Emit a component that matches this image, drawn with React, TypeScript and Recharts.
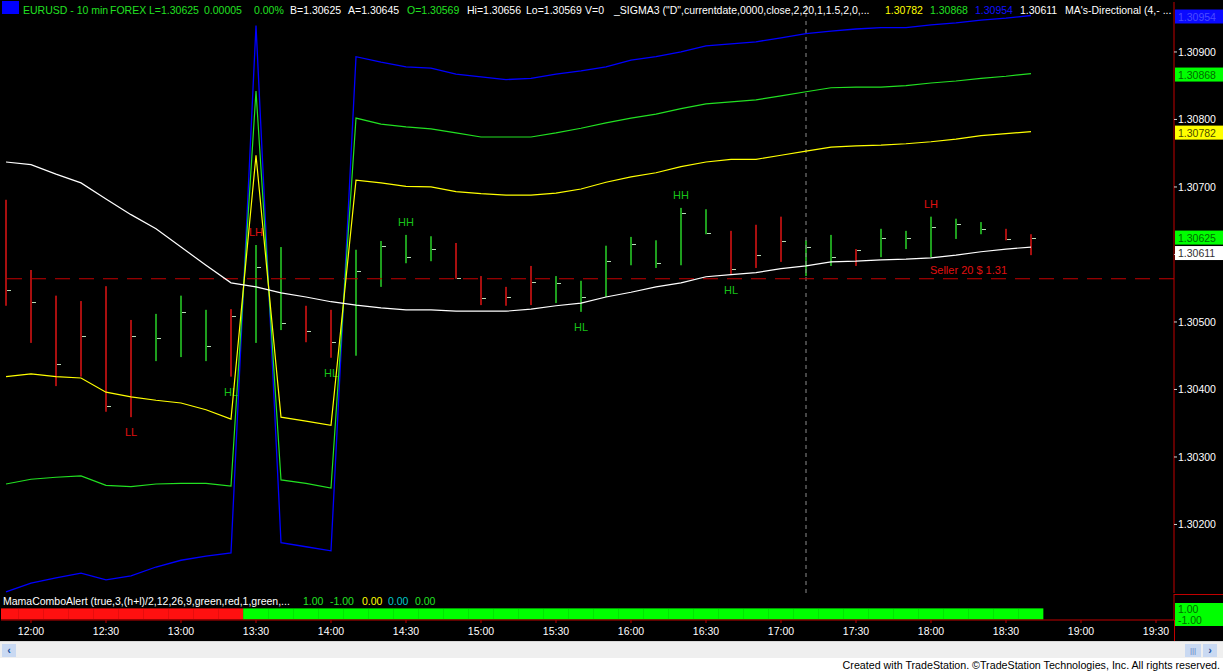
import React from 'react';
import { Bar, Cell, ComposedChart, Line, ReferenceDot, ReferenceLine, XAxis, YAxis } from 'recharts';

// EURUSD 10 min bars, first bar at 11:50
const FIRST_BAR = '11:50';
const BAR_MINUTES = 10;

const highs = [
  1.30681, 1.30577, 1.30539, 1.30531, 1.30553, 1.30503, 1.30512, 1.30539, 1.30518, 1.30519,
  1.30614, 1.30611, 1.30524, 1.30518, 1.30607, 1.3062, 1.30629, 1.30627, 1.30617, 1.30568,
  1.30552, 1.30583, 1.30568, 1.30561, 1.30613, 1.30626, 1.30621, 1.30669, 1.30667, 1.30635,
  1.30644, 1.30656, 1.30621, 1.30629, 1.30608, 1.30638, 1.30635, 1.30656, 1.30653, 1.30648,
  1.30638, 1.3063,
];
const lows = [
  1.30524, 1.30469, 1.30405, 1.30419, 1.30367, 1.30359, 1.30442, 1.30448, 1.30442, 1.30419,
  1.30469, 1.30488, 1.3047, 1.30447, 1.3045, 1.30552, 1.30587, 1.3059, 1.30564, 1.30525,
  1.30524, 1.30525, 1.30528, 1.30515, 1.30537, 1.30584, 1.3058, 1.30584, 1.3063, 1.3057,
  1.3058, 1.30589, 1.30568, 1.30583, 1.30583, 1.30596, 1.30608, 1.30596, 1.30623, 1.3063,
  1.30621, 1.30599,
];
const closes = [
  1.30547, 1.3053, 1.30438, 1.30479, 1.30376, 1.30479, 1.30476, 1.30515, 1.30464, 1.30509,
  1.30581, 1.30499, 1.30487, 1.3047, 1.30576, 1.30613, 1.30596, 1.30608, 1.30565, 1.30536,
  1.30537, 1.30559, 1.30558, 1.30537, 1.3059, 1.30616, 1.30587, 1.30661, 1.30632, 1.30579,
  1.30599, 1.3062, 1.30611, 1.30596, 1.30607, 1.30624, 1.30624, 1.30641, 1.30645, 1.30638,
  1.30623, 1.30625,
];
// paint bar colour: 1 = green, -1 = red
const barDir = [
  -1, -1, -1, -1, -1, -1, 1, 1, 1, -1,
  1, 1, -1, -1, 1, 1, 1, 1, -1, -1,
  -1, -1, 1, 1, 1, 1, 1, 1, 1, -1,
  -1, -1, 1, 1, -1, 1, 1, 1, 1, 1,
  -1, -1,
];

// _SIGMA3 plots
const sigmaMid = [
  1.30737, 1.30733, 1.30719, 1.30706, 1.30682, 1.30659, 1.30638, 1.30611, 1.30584, 1.30558,
  1.30552, 1.30543, 1.30537, 1.3053, 1.30525, 1.30521, 1.30518, 1.30518, 1.30516, 1.30516,
  1.30516, 1.30519, 1.30524, 1.30528, 1.30537, 1.30544, 1.30552, 1.30558, 1.30567, 1.3057,
  1.30573, 1.30579, 1.30583, 1.30589, 1.3059, 1.30592, 1.30593, 1.30595, 1.30599, 1.30604,
  1.30608, 1.30611,
];
const sigmaYellow = [
  1.30419, 1.30423, 1.30419, 1.30417, 1.30396, 1.30389, 1.30384, 1.3038, 1.3037, 1.30356,
  1.30747, 1.30359, 1.30353, 1.30347, 1.3071, 1.30706, 1.30701, 1.307, 1.30693, 1.3069,
  1.30688, 1.30688, 1.30691, 1.30697, 1.30707, 1.30715, 1.30721, 1.3073, 1.30737, 1.30741,
  1.30741, 1.30747, 1.30753, 1.30759, 1.30761, 1.30762, 1.30764, 1.30767, 1.30771, 1.30776,
  1.30779, 1.30782,
];
const sigmaGreen = [
  1.3026, 1.30267, 1.3027, 1.30272, 1.30258, 1.30256, 1.3026, 1.30261, 1.30261, 1.30257,
  1.30842, 1.30266, 1.30261, 1.30254, 1.30802, 1.30793, 1.30789, 1.30786, 1.3078, 1.30774,
  1.30774, 1.30774, 1.3078, 1.30787, 1.30795, 1.30802, 1.30808, 1.30816, 1.30823, 1.30826,
  1.30829, 1.30835, 1.30841, 1.30847, 1.30848, 1.30848, 1.3085, 1.30854, 1.30857, 1.30861,
  1.30864, 1.30868,
];
const sigmaBlue = [
  1.301, 1.30113, 1.30121, 1.30128, 1.30118, 1.30124, 1.30137, 1.30147, 1.30153, 1.30158,
  1.30939, 1.30173, 1.30167, 1.30161, 1.30893, 1.30885, 1.30878, 1.30876, 1.30867, 1.30863,
  1.30859, 1.30861, 1.30867, 1.30872, 1.30878, 1.30888, 1.30893, 1.309, 1.30909, 1.30912,
  1.30915, 1.30921, 1.30927, 1.30931, 1.30934, 1.30936, 1.30936, 1.3094, 1.30943, 1.30947,
  1.3095, 1.30954,
];

// swing labels: bar index, text
const swingBars = [5, 9, 10, 13, 16, 23, 27, 29, 37];
const swingTexts = ['LL', 'HL', 'LH', 'HL', 'HH', 'HL', 'HH', 'HL', 'LH'];

// MamaComboAlert state per bar
const alertState = [
  -1, -1, -1, -1, -1, -1, -1, -1, -1, -1,
  1, 1, 1, 1, 1, 1, 1, 1, 1, 1,
  1, 1, 1, 1, 1, 1, 1, 1, 1, 1,
  1, 1, 1, 1, 1, 1, 1, 1, 1, 1,
  1, 1,
];

const priceTicks = [1.302, 1.303, 1.304, 1.305, 1.306, 1.307, 1.308, 1.309];
const timeTicks = [
  '12:00', '12:30', '13:00', '13:30', '14:00', '14:30', '15:00', '15:30',
  '16:00', '16:30', '17:00', '17:30', '18:00', '18:30', '19:00', '19:30',
];
const sellerLevel = 1.30564;
const sellerText = 'Seller 20 $ 1.31';
const sellerAt = '18:15';
const sessionLine = '17:10';

const FONT = '"Liberation Sans", Arial, sans-serif';
const UP = '#1e9e1e';
const DOWN = '#a80f0f';
const AXIS_RED = '#c00000';
const W = 1223;

const toMin = (t: string) => {
  const [h, m] = t.split(':').map(Number);
  return h * 60 + m;
};
const slotOf = (t: string) => (toMin(t) - toMin(FIRST_BAR)) / BAR_MINUTES;
const X_DOMAIN: [number, number] = [-0.2, 46.72];
const Y_DOMAIN: [number, number] = [1.300985, 1.30974];

const rows = highs.map((h, i) => {
  const k = swingBars.indexOf(i);
  return {
    i,
    range: [lows[i], h],
    high: h,
    low: lows[i],
    close: closes[i],
    dir: barDir[i],
    mid: sigmaMid[i],
    yellow: sigmaYellow[i],
    green: sigmaGreen[i],
    blue: sigmaBlue[i],
    swing: k >= 0 ? swingTexts[k] : null,
  };
});
const alertRows = alertState.map((a, i) => ({ i, a, mag: Math.abs(a) }));
const last = closes.length - 1;

const OhlcShape = (props: any) => {
  const { x, y, width, height, payload } = props;
  if (x == null || !payload) return null;
  const top = Math.min(y, y + height);
  const h = Math.abs(height);
  const cx = Math.round(x + width / 2);
  const span = payload.high - payload.low;
  const yc = top + (span ? (payload.high - payload.close) / span : 0) * h;
  const sw = payload.swing as string | null;
  const above = sw === 'HH' || sw === 'LH';
  return (
    <g>
      <rect x={cx - 1} y={top} width={2} height={Math.max(h, 1)} fill={payload.dir > 0 ? UP : DOWN} />
      <rect x={cx + 1} y={Math.round(yc)} width={4} height={1} fill="#b8dcb8" />
      {sw && (
        <text
          x={cx}
          y={above ? top - 13 : top + h + 15}
          textAnchor="middle"
          dominantBaseline="central"
          fontSize={11}
          fontFamily={FONT}
          fill={sw[0] === 'H' ? '#18c018' : '#e01010'}
        >
          {sw}
        </text>
      )}
    </g>
  );
};

// histogram cell filling the whole 10 minute slot
const AlertShape = (props: any) => {
  const { x, y, width, height, fill } = props;
  if (x == null) return null;
  const cx = x + width / 2;
  const top = Math.min(y, y + height);
  return <rect x={cx - 12.6} y={top} width={25.2} height={Math.abs(height)} fill={fill} />;
};

const AxisBox = (props: any) => {
  const { viewBox, bg, fg, text, dy = 0 } = props;
  if (!viewBox) return null;
  const x = viewBox.x + viewBox.width;
  const y = viewBox.y + dy;
  return (
    <g>
      <rect x={x + 1} y={y - 7} width={48} height={14} fill={bg} />
      <text x={x + 4} y={y + 4} fontSize={10.5} fontFamily={FONT} fill={fg}>
        {text}
      </text>
    </g>
  );
};

// last-value markers on the price scale (dy only pushes a box clear of its neighbour)
const axisBoxes = [
  { v: sigmaBlue[last], bg: '#0a0aff', fg: '#4a4aff', dy: 1 },
  { v: sigmaGreen[last], bg: '#00ff00', fg: '#006a00', dy: 1 },
  { v: sigmaYellow[last], bg: '#ffff00', fg: '#4a4a00', dy: 1 },
  { v: sigmaMid[last], bg: '#ffffff', fg: '#303030', dy: 6 },
  { v: closes[last], bg: '#00ff00', fg: '#006a00', dy: 0 },
];

const G = '#22e022';
const WH = '#ffffff';
const MAIN_MARGIN = { top: 2, right: 0, bottom: 1, left: 1 };

export default function App() {
  const header: [string, string, number][] = [
    ['EURUSD - 10 min', G, 23],
    ['FOREX', G, 110],
    [`L=${closes[last].toFixed(5)}`, G, 149],
    ['0.00005', G, 204],
    ['0.00%', G, 254],
    ['B=1.30625', WH, 290],
    ['A=1.30645', WH, 348],
    ['O=1.30569', G, 407],
    ['Hi=1.30656', WH, 467],
    ['Lo=1.30569', WH, 526],
    ['V=0', WH, 585],
    ['_SIGMA3 ("D",currentdate,0000,close,2,20,1,1.5,2,0,...', WH, 614],
    [sigmaYellow[last].toFixed(5), '#ffff00', 885],
    [sigmaGreen[last].toFixed(5), G, 930],
    [sigmaBlue[last].toFixed(5), '#1010ff', 975],
    [sigmaMid[last].toFixed(5), WH, 1020],
    ["MA's-Directional (4,- ...", WH, 1065],
  ];
  const sub: [string, string, number][] = [
    ['MamaComboAlert (true,3,(h+l)/2,12,26,9,green,red,1,green,...', WH, 3],
    ['1.00', G, 303],
    ['-1.00', G, 330],
    ['0.00', '#ffff00', 362],
    ['0.00', '#00c8c8', 388],
    ['0.00', G, 415],
  ];
  const txt = (s: string, c: string, x: number, y: number, k: number) => (
    <div key={k} style={{ position: 'absolute', left: x, top: y, color: c, fontSize: 10.5, whiteSpace: 'pre', lineHeight: '12px' }}>
      {s}
    </div>
  );

  return (
    <div style={{ position: 'absolute', left: 0, top: 0, width: W, height: 672, background: '#000', overflow: 'hidden', fontFamily: FONT }}>
      <div style={{ position: 'absolute', left: 0, top: 0 }}>
        <ComposedChart width={W} height={594} data={rows} margin={MAIN_MARGIN}>
          <XAxis dataKey="i" type="number" domain={X_DOMAIN} allowDataOverflow hide />
          <YAxis
            orientation="right"
            width={49}
            type="number"
            domain={Y_DOMAIN}
            allowDataOverflow
            ticks={priceTicks}
            tickFormatter={(v: number) => v.toFixed(5)}
            tick={{ fill: '#ffffff', fontSize: 10.5, fontFamily: FONT }}
            tickSize={3}
            tickMargin={1}
            tickLine={{ stroke: '#d0d0d0' }}
            axisLine={{ stroke: AXIS_RED }}
          />
          <ReferenceLine x={slotOf(sessionLine)} stroke="#8c8c8c" strokeDasharray="4 4" />
          <ReferenceLine y={sellerLevel} stroke="#c40000" strokeWidth={1.2} strokeDasharray="15 9" />
          <ReferenceDot
            x={slotOf(sellerAt)}
            y={sellerLevel}
            r={0}
            stroke="none"
            label={{ value: sellerText, position: 'top', fill: '#e01010', fontSize: 11, fontFamily: FONT }}
          />
          <Line dataKey="blue" type="linear" stroke="#0000ff" strokeWidth={1.3} dot={false} activeDot={false} isAnimationActive={false} />
          <Line dataKey="green" type="linear" stroke="#22e022" strokeWidth={1.2} dot={false} activeDot={false} isAnimationActive={false} />
          <Line dataKey="yellow" type="linear" stroke="#ffff00" strokeWidth={1.2} dot={false} activeDot={false} isAnimationActive={false} />
          <Line dataKey="mid" type="linear" stroke="#ffffff" strokeWidth={1.2} dot={false} activeDot={false} isAnimationActive={false} />
          <Bar dataKey="range" barSize={10} shape={<OhlcShape />} isAnimationActive={false} />
        </ComposedChart>
      </div>

      {/* same frame again on top, only for the last-value boxes on the price scale */}
      <div style={{ position: 'absolute', left: 0, top: 0 }}>
        <ComposedChart width={W} height={594} data={rows} margin={MAIN_MARGIN}>
          <XAxis dataKey="i" type="number" domain={X_DOMAIN} allowDataOverflow hide />
          <YAxis orientation="right" width={49} type="number" domain={Y_DOMAIN} allowDataOverflow tick={false} tickLine={false} axisLine={false} />
          {axisBoxes.map((b, k) => (
            <ReferenceLine
              key={k}
              y={b.v}
              stroke="none"
              label={<AxisBox bg={b.bg} fg={b.fg} dy={b.dy} text={b.v.toFixed(5)} />}
            />
          ))}
        </ComposedChart>
      </div>

      <div style={{ position: 'absolute', left: 0, top: 594 }}>
        <ComposedChart width={W} height={48} data={alertRows} margin={{ top: 0, right: 0, bottom: 0, left: 1 }}>
          <XAxis
            dataKey="i"
            type="number"
            domain={X_DOMAIN}
            allowDataOverflow
            height={22}
            ticks={timeTicks.map(slotOf)}
            tickFormatter={(v: number) => timeTicks.find((t) => Math.abs(slotOf(t) - v) < 0.01) || ''}
            tick={{ fill: '#ffffff', fontSize: 10.5, fontFamily: FONT }}
            tickSize={3}
            tickMargin={5}
            tickLine={{ stroke: AXIS_RED }}
            axisLine={{ stroke: AXIS_RED }}
          />
          <YAxis orientation="right" width={49} domain={[-0.05, 2.3]} allowDataOverflow tick={false} tickLine={false} axisLine={{ stroke: AXIS_RED }} />
          <Bar dataKey="mag" barSize={25} shape={<AlertShape />} isAnimationActive={false}>
            {alertRows.map((r) => (
              <Cell key={r.i} fill={r.a > 0 ? '#00ff00' : '#ff1010'} />
            ))}
          </Bar>
        </ComposedChart>
      </div>

      {/* header readout */}
      <div style={{ position: 'absolute', left: 2, top: 1, width: 17, height: 13, background: '#0000ff' }} />
      {header.map(([s, c, x], k) => txt(s, c, x, 4, k))}
      {sub.map(([s, c, x], k) => txt(s, c, x, 595, 100 + k))}

      {/* right panel pieces */}
      <div style={{ position: 'absolute', left: 1174, top: 594, width: 49, height: 1, background: AXIS_RED }} />
      <div style={{ position: 'absolute', left: 1174, top: 620, width: 1, height: 21, background: AXIS_RED }} />
      <div style={{ position: 'absolute', left: 1175, top: 603, width: 48, height: 23, background: '#00ff00', color: '#006a00', fontSize: 10.5, lineHeight: '11px', paddingLeft: 3, boxSizing: 'border-box', paddingTop: 1 }}>
        <div>1.00</div>
        <div>-1.00</div>
      </div>

      {/* scroll strip and footer */}
      <div style={{ position: 'absolute', left: 0, top: 641, width: W, height: 17, background: '#efefef', borderTop: '1px solid #d8d8d8' }} />
      <div style={{ position: 'absolute', left: 2, top: 644, width: 14, height: 13, background: '#c9d9f2', color: '#2050a0', fontSize: 11, lineHeight: '13px', textAlign: 'center', fontWeight: 'bold' }}>‹</div>
      <div style={{ position: 'absolute', left: 1185, top: 644, width: 16, height: 13, background: '#c9d9f2', color: '#6080c0', fontSize: 8, lineHeight: '13px', textAlign: 'center' }}>|||</div>
      <div style={{ position: 'absolute', left: 1203, top: 644, width: 14, height: 13, background: '#c9d9f2', color: '#2050a0', fontSize: 11, lineHeight: '13px', textAlign: 'center', fontWeight: 'bold' }}>›</div>
      <div style={{ position: 'absolute', left: 0, top: 658, width: W, height: 14, background: '#ffffff' }} />
      <div style={{ position: 'absolute', right: 3, top: 659, fontSize: 10.7, color: '#000', whiteSpace: 'pre', lineHeight: '12px' }}>
        Created with TradeStation. ©TradeStation Technologies, Inc. All rights reserved.
      </div>
    </div>
  );
}
